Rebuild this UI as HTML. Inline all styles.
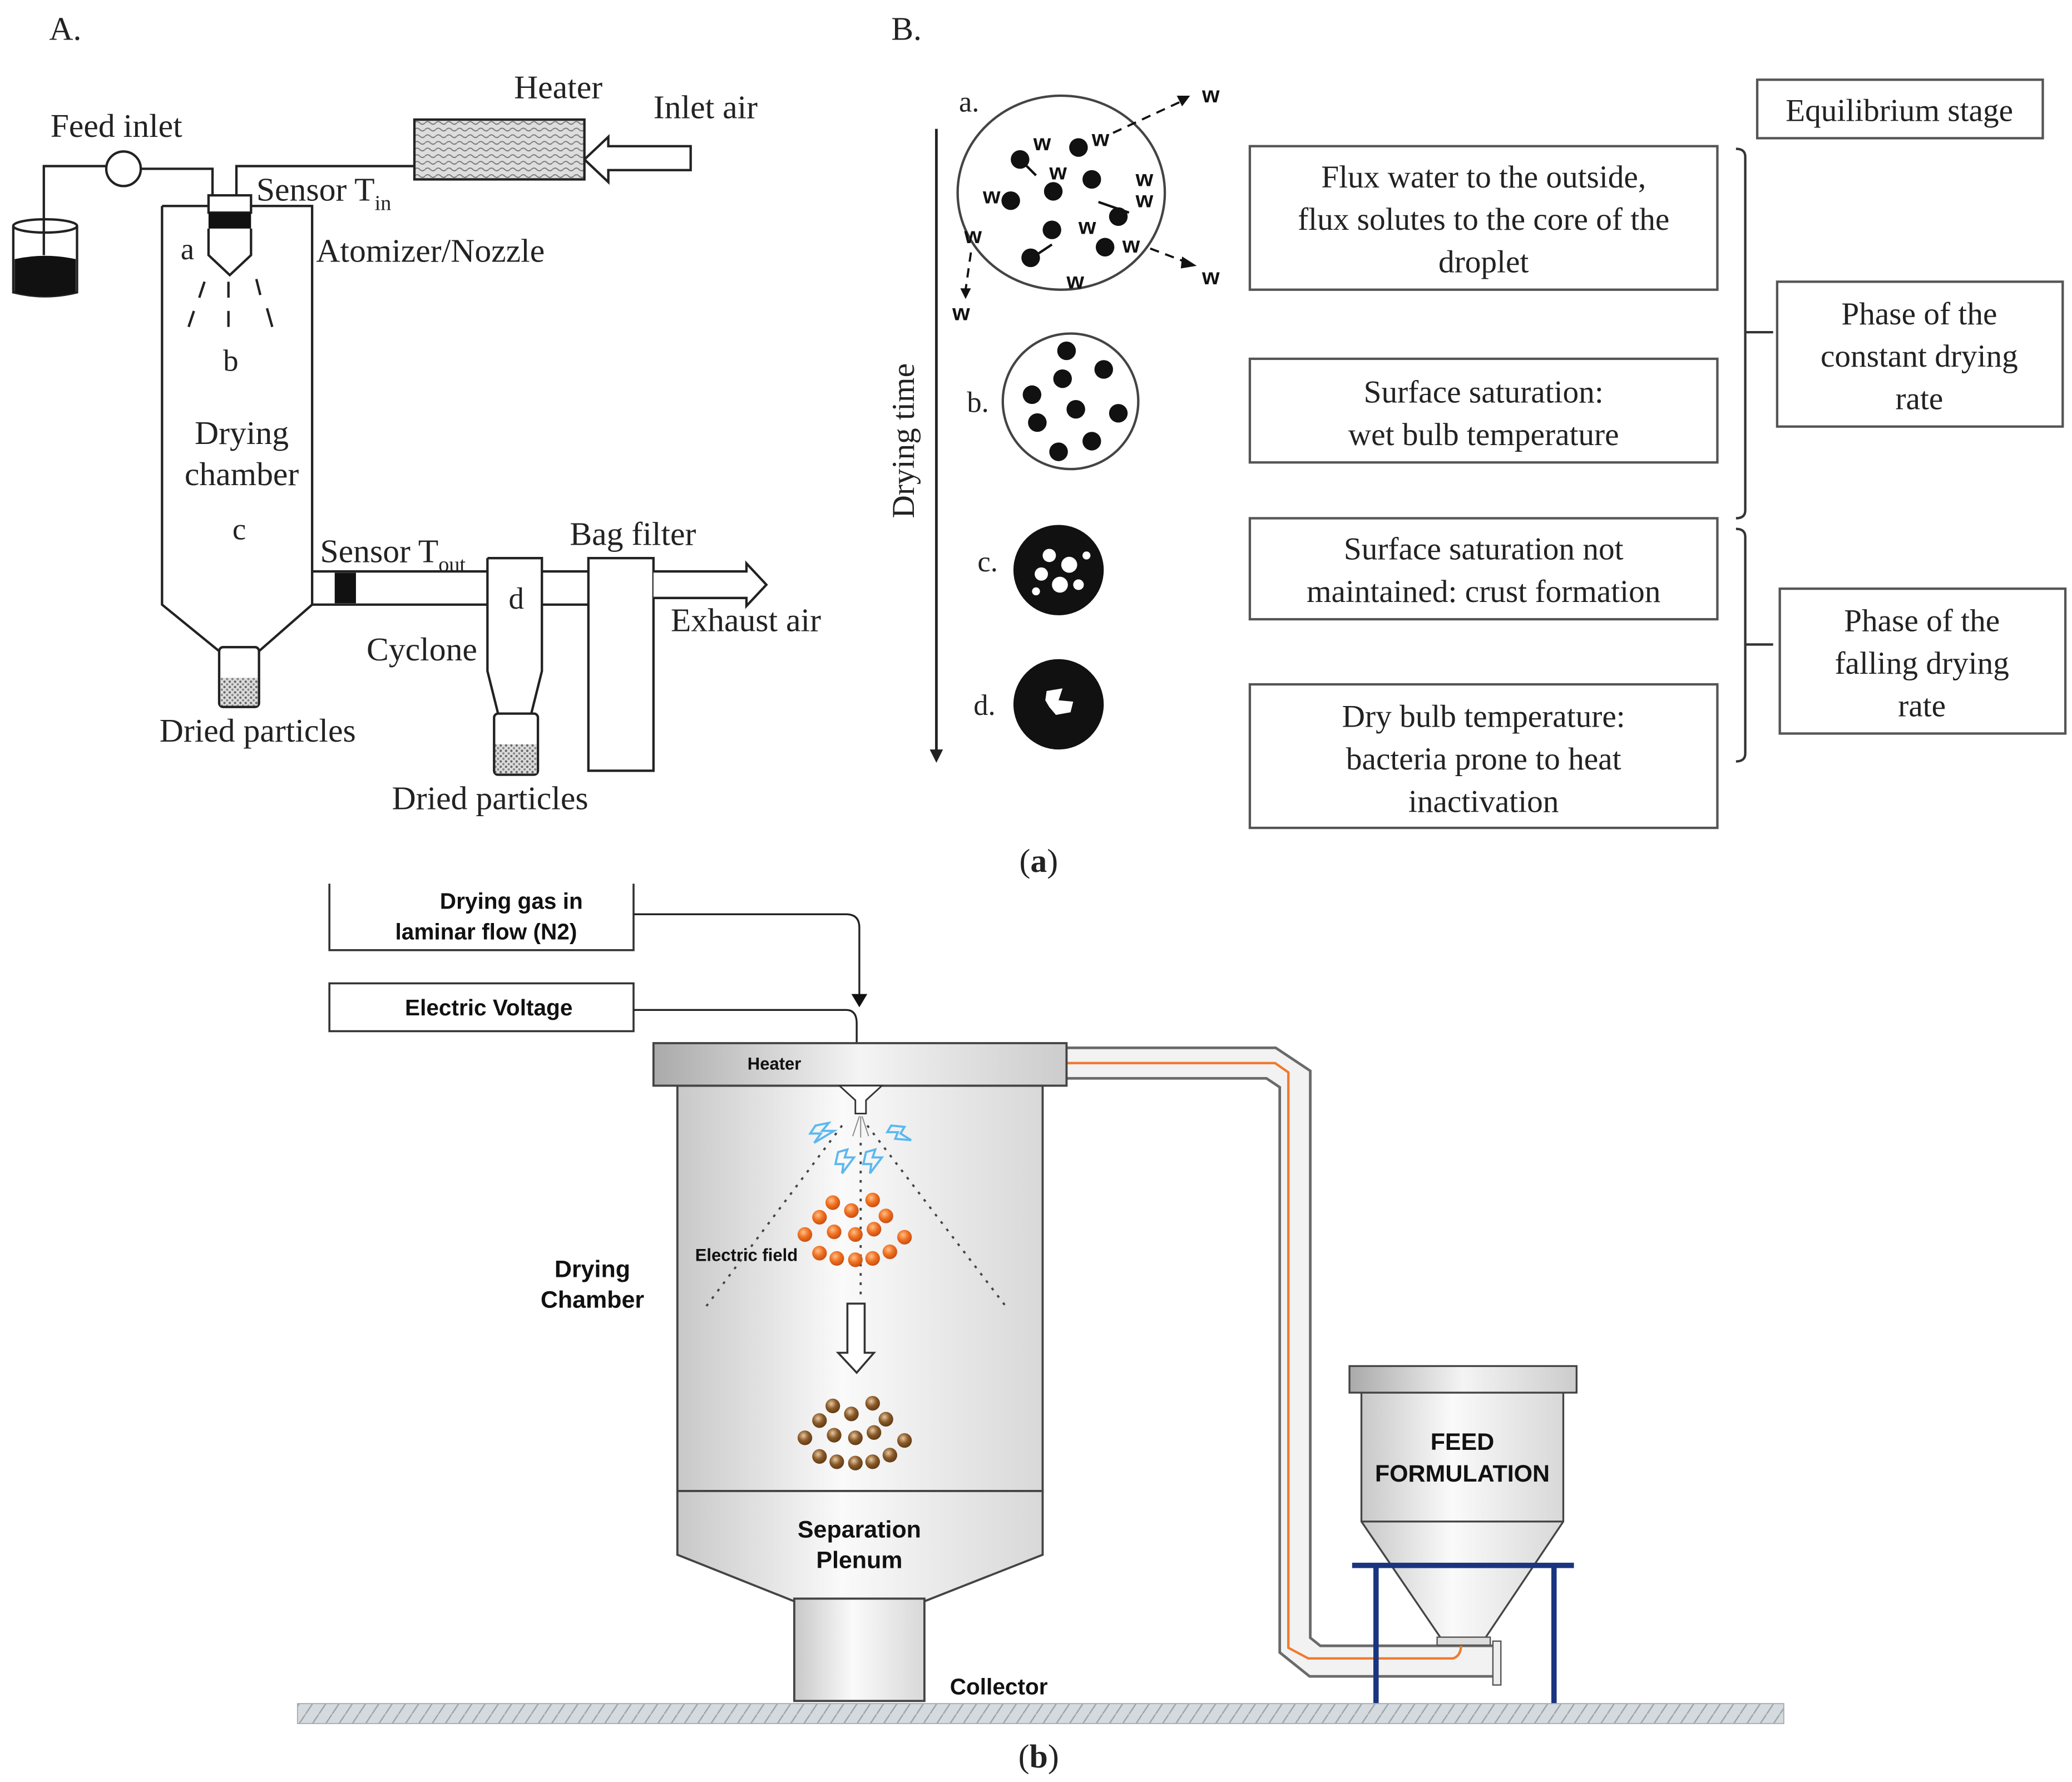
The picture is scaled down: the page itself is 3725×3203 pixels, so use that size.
<!DOCTYPE html>
<html><head><meta charset="utf-8"><style>
html,body{margin:0;padding:0;background:#fff}
svg{display:block}
.s{font-family:"Liberation Serif",serif;fill:#222}
.b{font-family:"Liberation Sans",sans-serif;fill:#111;font-weight:bold}
</style></head><body>
<svg width="3725" height="3203" viewBox="0 0 1560 1341" preserveAspectRatio="none" xmlns="http://www.w3.org/2000/svg">
<defs>
<pattern id="wave" width="8" height="5" patternUnits="userSpaceOnUse"><rect width="8" height="5" fill="#ddd"/><path d="M0,2.5 Q2,0.5 4,2.5 T8,2.5" stroke="#777" stroke-width="0.8" fill="none"/></pattern>
<pattern id="dots" width="4" height="4" patternUnits="userSpaceOnUse"><rect width="4" height="4" fill="#ddd"/><circle cx="1" cy="1" r="0.9" fill="#666"/><circle cx="3" cy="3" r="0.9" fill="#888"/></pattern>
<pattern id="hatch" width="10" height="15" patternUnits="userSpaceOnUse"><rect width="10" height="15" fill="#d4dadd"/><path d="M0,15 L10,0" stroke="#9aa3a8" stroke-width="1"/></pattern>
<linearGradient id="g1" x1="0" x2="1"><stop offset="0" stop-color="#c8c8c8"/><stop offset="0.45" stop-color="#fafafa"/><stop offset="1" stop-color="#d8d8d8"/></linearGradient>
<linearGradient id="g2" x1="0" x2="1"><stop offset="0" stop-color="#aaa"/><stop offset="0.5" stop-color="#f4f4f4"/><stop offset="1" stop-color="#ccc"/></linearGradient>
<radialGradient id="or" cx="0.4" cy="0.35" r="0.7"><stop offset="0" stop-color="#ffc08a"/><stop offset="0.5" stop-color="#f07020"/><stop offset="1" stop-color="#c04a10"/></radialGradient>
<radialGradient id="br" cx="0.4" cy="0.35" r="0.7"><stop offset="0" stop-color="#e8c8a0"/><stop offset="0.5" stop-color="#8a5a2a"/><stop offset="1" stop-color="#5a3510"/></radialGradient>
</defs>

<!-- ============ PART A ============ -->
<text class="s" x="37" y="30" font-size="25">A.</text>
<text class="s" x="38" y="103" font-size="25">Feed inlet</text>
<text class="s" x="387" y="74" font-size="25">Heater</text>
<text class="s" x="492" y="89" font-size="25">Inlet air</text>
<text class="s" x="193" y="151" font-size="25">Sensor T<tspan font-size="16" dy="7">in</tspan></text>
<text class="s" x="238" y="197" font-size="25">Atomizer/Nozzle</text>
<g fill="none" stroke="#222" stroke-width="1.8">
<path d="M10,170 L10,220 Q34,226 58,220 L58,170"/>
<ellipse cx="34" cy="170" rx="24" ry="5"/>
<path d="M33,192 L33,125 L80,125"/>
<circle cx="93" cy="127" r="13" fill="#fff"/>
<path d="M106,127 L160,127 L160,150"/>
<path d="M178,150 L178,125 L312,125"/>
<path d="M122,155 L235,155 L235,455 L195,490 M122,155 L122,455 L165,490"/>
<rect x="157" y="147" width="32" height="13" fill="#fff"/>
<path d="M157,172 L157,192 L173,207 L189,192 L189,172"/>
<path d="M154,212 L150,224 M146,234 L142,246 M172,212 L172,224 M172,234 L172,246 M193,210 L196,222 M201,232 L205,246"/>
<rect x="165" y="487" width="30" height="45" rx="3" fill="#fff"/>
<path d="M235,430 L367,430 M235,455 L367,455"/>
<path d="M367,420 L408,420 L408,505 L400,537 M367,420 L367,505 L375,537"/>
<rect x="372" y="537" width="33" height="46" rx="3" fill="#fff"/>
<path d="M408,430 L443,430 M408,455 L443,455"/>
<rect x="443" y="420" width="49" height="160" fill="#fff"/>
<path d="M492,430 L562,430 L562,424 L577,440 L562,456 L562,450 L492,450" fill="#fff"/>
<path d="M520,110 L458,110 L458,103 L440,120 L458,137 L458,128 L520,128 Z" fill="#fff"/>
</g>
<path d="M11,195 Q34,190 57,195 L57,220 Q34,226 11,220 Z" fill="#111"/>
<rect x="312" y="90" width="128" height="45" fill="url(#wave)" stroke="#222" stroke-width="1.8"/>
<rect x="157" y="160" width="32" height="12" fill="#111"/>
<rect x="166" y="510" width="28" height="21" fill="url(#dots)"/>
<rect x="373" y="560" width="31" height="22" fill="url(#dots)"/>
<rect x="252" y="431" width="16" height="23" fill="#111"/>
<text class="s" x="136" y="195" font-size="23">a</text>
<text class="s" x="168" y="279" font-size="23">b</text>
<text class="s" x="182" y="334" font-size="25" text-anchor="middle">Drying</text>
<text class="s" x="182" y="365" font-size="25" text-anchor="middle">chamber</text>
<text class="s" x="175" y="406" font-size="23">c</text>
<text class="s" x="241" y="423" font-size="25">Sensor T<tspan font-size="16" dy="7">out</tspan></text>
<text class="s" x="429" y="410" font-size="25">Bag filter</text>
<text class="s" x="383" y="458" font-size="23">d</text>
<text class="s" x="276" y="497" font-size="25">Cyclone</text>
<text class="s" x="505" y="475" font-size="25">Exhaust air</text>
<text class="s" x="194" y="558" font-size="25" text-anchor="middle">Dried particles</text>
<text class="s" x="369" y="609" font-size="25" text-anchor="middle">Dried particles</text>

<!-- ============ PART B ============ -->
<text class="s" x="671" y="30" font-size="25">B.</text>
<line x1="705" y1="97" x2="705" y2="566" stroke="#222" stroke-width="2"/>
<path d="M700,564 L710,564 L705,574 Z" fill="#222"/>
<text class="s" x="0" y="0" font-size="24" transform="translate(688,390) rotate(-90)">Drying time</text>
<text class="s" x="722" y="84" font-size="22">a.</text>
<text class="s" x="728" y="310" font-size="22">b.</text>
<text class="s" x="736" y="430" font-size="22">c.</text>
<text class="s" x="733" y="538" font-size="22">d.</text>
<ellipse cx="799" cy="145" rx="78" ry="73" fill="none" stroke="#444" stroke-width="1.8"/>
<g fill="#111">
<circle cx="768" cy="120" r="7"/><circle cx="812" cy="111" r="7"/><circle cx="822" cy="135" r="7"/>
<circle cx="761" cy="151" r="7"/><circle cx="793" cy="144" r="7"/><circle cx="842" cy="163" r="7"/>
<circle cx="792" cy="173" r="7"/><circle cx="832" cy="186" r="7"/><circle cx="776" cy="194" r="7"/>
</g>
<g font-family="Liberation Sans,sans-serif" font-size="17" font-weight="bold" fill="#111">
<text x="778" y="113">w</text><text x="822" y="110">w</text><text x="790" y="135">w</text>
<text x="740" y="153">w</text><text x="855" y="140">w</text><text x="855" y="156">w</text>
<text x="812" y="176">w</text><text x="726" y="183">w</text><text x="845" y="190">w</text>
<text x="803" y="217">w</text><text x="905" y="77">w</text><text x="905" y="214">w</text><text x="717" y="241">w</text>
</g>
<g stroke="#111" stroke-width="1.6" fill="none" stroke-dasharray="7,5">
<path d="M838,100 L890,76"/><path d="M866,187 L895,198"/><path d="M731,190 L727,218"/>
</g>
<g fill="#111">
<path d="M896,72 L886,72 L890,80 Z"/><path d="M901,200 L890,193 L889,202 Z"/><path d="M723,217 L731,217 L727,225 Z"/>
</g>
<g stroke="#111" stroke-width="1.8">
<path d="M770,122 L780,132"/><path d="M850,160 L827,152"/><path d="M780,192 L792,184"/>
</g>
<ellipse cx="806" cy="302" rx="51" ry="51" fill="none" stroke="#444" stroke-width="1.8"/>
<g fill="#111">
<circle cx="803" cy="264" r="7"/><circle cx="831" cy="278" r="7"/><circle cx="800" cy="285" r="7"/>
<circle cx="777" cy="297" r="7"/><circle cx="810" cy="308" r="7"/><circle cx="842" cy="311" r="7"/>
<circle cx="781" cy="318" r="7"/><circle cx="822" cy="332" r="7"/><circle cx="797" cy="340" r="7"/>
</g>
<circle cx="797" cy="429" r="34" fill="#111"/>
<g fill="#fff"><circle cx="790" cy="418" r="5"/><circle cx="805" cy="425" r="6"/><circle cx="784" cy="432" r="5"/><circle cx="798" cy="440" r="6"/><circle cx="812" cy="440" r="4"/><circle cx="780" cy="445" r="3"/><circle cx="818" cy="418" r="3"/></g>
<circle cx="797" cy="530" r="34" fill="#111"/>
<path d="M788,520 L800,518 L797,527 L808,528 L806,536 L795,538 L790,532 L787,527 Z" fill="#fff"/>
<g fill="#fff" stroke="#555" stroke-width="1.8">
<rect x="941" y="110" width="352" height="108"/>
<rect x="941" y="270" width="352" height="78"/>
<rect x="941" y="390" width="352" height="76"/>
<rect x="941" y="515" width="352" height="108"/>
<rect x="1323" y="60" width="215" height="44"/>
<rect x="1338" y="212" width="215" height="109"/>
<rect x="1340" y="443" width="215" height="109"/>
</g>
<g class="s" font-size="24" text-anchor="middle">
<text x="1117" y="141">Flux water to the outside,</text>
<text x="1117" y="173">flux solutes to the core of the</text>
<text x="1117" y="205">droplet</text>
<text x="1117" y="303">Surface saturation:</text>
<text x="1117" y="335">wet bulb temperature</text>
<text x="1117" y="421">Surface saturation not</text>
<text x="1117" y="453">maintained: crust formation</text>
<text x="1117" y="547">Dry bulb temperature:</text>
<text x="1117" y="579">bacteria prone to heat</text>
<text x="1117" y="611">inactivation</text>
<text x="1430" y="91">Equilibrium stage</text>
<text x="1445" y="244">Phase of the</text>
<text x="1445" y="276">constant drying</text>
<text x="1445" y="308">rate</text>
<text x="1447" y="475">Phase of the</text>
<text x="1447" y="507">falling drying</text>
<text x="1447" y="539">rate</text>
</g>
<g fill="none" stroke="#333" stroke-width="1.8">
<path d="M1307,112 Q1314,112 1314,118 L1314,384 Q1314,390 1307,390 M1314,250 L1335,250"/>
<path d="M1307,398 Q1314,398 1314,404 L1314,567 Q1314,573 1307,573 M1314,485 L1335,485"/>
</g>
<text class="s" x="782" y="656" font-size="25" text-anchor="middle">(<tspan font-weight="bold">a</tspan>)</text>

<!-- ============ PART (b) ============ -->
<path d="M248,665 L248,715 L477,715 L477,665" fill="none" stroke="#333" stroke-width="1.5"/>
<rect x="248" y="740" width="229" height="36" fill="none" stroke="#333" stroke-width="1.5"/>
<text class="b" x="385" y="684" font-size="17" text-anchor="middle">Drying gas in</text>
<text class="b" x="366" y="707" font-size="17" text-anchor="middle">laminar flow (N2)</text>
<text class="b" x="368" y="764" font-size="17" text-anchor="middle">Electric Voltage</text>
<g fill="none" stroke="#222" stroke-width="1.4">
<path d="M477,688 L637,688 Q647,688 647,698 L647,750"/>
<path d="M477,760 L637,760 Q645,760 645,770 L645,803"/>
</g>
<path d="M641,748 L653,748 L647,758 Z" fill="#111"/>
<path d="M639,802 L651,802 L645,812 Z" fill="#111"/>

<path d="M800,800 L957,800 L975,812 L975,1238 L990,1250 L1125,1250" fill="none" stroke="#6a6a6a" stroke-width="25" stroke-linejoin="miter"/>
<path d="M800,800 L957,800 L975,812 L975,1238 L990,1250 L1125,1250" fill="none" stroke="#f2f2f2" stroke-width="21" stroke-linejoin="miter"/>
<path d="M660,803 Q668,800 680,800 L960,800 L970,807 L970,1240 L985,1248 L1094,1248 Q1100,1246 1100,1238" fill="none" stroke="#f07a30" stroke-width="1.8"/>
<path d="M648,810 L660,800 L661,809 Z" fill="#f07a30"/>

<rect x="510" y="817" width="275" height="305" fill="url(#g1)" stroke="#444" stroke-width="1.6"/>
<path d="M510,1122 L785,1122 L785,1170 L696,1205 L598,1205 L510,1170 Z" fill="url(#g1)" stroke="#444" stroke-width="1.6"/>
<rect x="598" y="1203" width="98" height="77" fill="url(#g1)" stroke="#444" stroke-width="1.6"/>
<rect x="492" y="785" width="311" height="32" fill="url(#g2)" stroke="#444" stroke-width="1.6"/>
<text class="b" x="583" y="805" font-size="13" text-anchor="middle">Heater</text>
<path d="M632,817 L664,817 L652,828 L652,838 L644,838 L644,828 Z" fill="#fff" stroke="#333" stroke-width="1.2"/>
<g stroke="#888" stroke-width="0.8"><path d="M647,840 L642,855 M648,840 L648,856 M649,840 L654,855"/></g>
<g fill="none" stroke="#444" stroke-width="1.6" stroke-dasharray="2,5">
<path d="M634,847 L531,984"/><path d="M653,847 L758,984"/><path d="M648,860 L648,975"/>
</g>
<g fill="none" stroke="#5bb8f0" stroke-width="1.6">
<path d="M614,847 L624,845 L619,851 L628,851 L613,860 L618,853 L610,853 Z"/>
<path d="M671,847 L681,848 L678,853 L686,858 L674,857 L676,852 L668,852 Z"/>
<path d="M631,867 L638,865 L636,871 L643,871 L634,883 L635,876 L629,876 Z"/>
<path d="M652,867 L659,865 L657,871 L664,871 L655,883 L656,876 L650,876 Z"/>
</g>
<g fill="url(#or)">
<circle cx="627" cy="905" r="5.5"/><circle cx="657" cy="903" r="5.5"/><circle cx="641" cy="911" r="5.5"/>
<circle cx="617" cy="916" r="5.5"/><circle cx="667" cy="915" r="5.5"/><circle cx="606" cy="929" r="5.5"/>
<circle cx="628" cy="927" r="5.5"/><circle cx="644" cy="929" r="5.5"/><circle cx="658" cy="925" r="5.5"/>
<circle cx="681" cy="931" r="5.5"/><circle cx="617" cy="943" r="5.5"/><circle cx="630" cy="947" r="5.5"/>
<circle cx="644" cy="948" r="5.5"/><circle cx="657" cy="947" r="5.5"/><circle cx="670" cy="942" r="5.5"/>
</g>
<g fill="url(#br)">
<circle cx="627" cy="1058" r="5.5"/><circle cx="657" cy="1056" r="5.5"/><circle cx="641" cy="1064" r="5.5"/>
<circle cx="617" cy="1069" r="5.5"/><circle cx="667" cy="1068" r="5.5"/><circle cx="606" cy="1082" r="5.5"/>
<circle cx="628" cy="1080" r="5.5"/><circle cx="644" cy="1082" r="5.5"/><circle cx="658" cy="1078" r="5.5"/>
<circle cx="681" cy="1084" r="5.5"/><circle cx="617" cy="1096" r="5.5"/><circle cx="630" cy="1100" r="5.5"/>
<circle cx="644" cy="1101" r="5.5"/><circle cx="657" cy="1100" r="5.5"/><circle cx="670" cy="1095" r="5.5"/>
</g>
<path d="M638,981 L651,981 L651,1018 L658,1018 L645,1033 L631,1018 L638,1018 Z" fill="#fff" stroke="#333" stroke-width="1.5"/>
<text class="b" x="562" y="949" font-size="13" text-anchor="middle">Electric field</text>
<text class="b" x="446" y="961" font-size="18" text-anchor="middle">Drying</text>
<text class="b" x="446" y="984" font-size="18" text-anchor="middle">Chamber</text>
<text class="b" x="647" y="1157" font-size="18" text-anchor="middle">Separation</text>
<text class="b" x="647" y="1180" font-size="18" text-anchor="middle">Plenum</text>
<text class="b" x="752" y="1275" font-size="17" text-anchor="middle">Collector</text>

<rect x="1016" y="1028" width="171" height="20" fill="url(#g2)" stroke="#444" stroke-width="1.4"/>
<path d="M1025,1048 L1177,1048 L1177,1145 L1118,1233 L1085,1233 L1025,1145 Z" fill="url(#g1)" stroke="#444" stroke-width="1.4"/>
<line x1="1025" y1="1145" x2="1177" y2="1145" stroke="#444" stroke-width="1.4"/>
<rect x="1082" y="1232" width="40" height="6" fill="#ddd" stroke="#555" stroke-width="1"/>
<rect x="1124" y="1235" width="6" height="33" fill="#eee" stroke="#555" stroke-width="1"/>
<text class="b" x="1101" y="1091" font-size="18" text-anchor="middle">FEED</text>
<text class="b" x="1101" y="1115" font-size="18" text-anchor="middle">FORMULATION</text>
<g stroke="#1a3580" stroke-width="4" fill="none">
<path d="M1018,1178 L1185,1178"/><path d="M1036,1178 L1036,1282"/><path d="M1170,1178 L1170,1282"/>
</g>
<rect x="224" y="1282" width="1119" height="15" fill="url(#hatch)" stroke="#aab" stroke-width="0.8"/>
<text class="s" x="782" y="1330" font-size="25" text-anchor="middle">(<tspan font-weight="bold">b</tspan>)</text>
</svg>
</body></html>
